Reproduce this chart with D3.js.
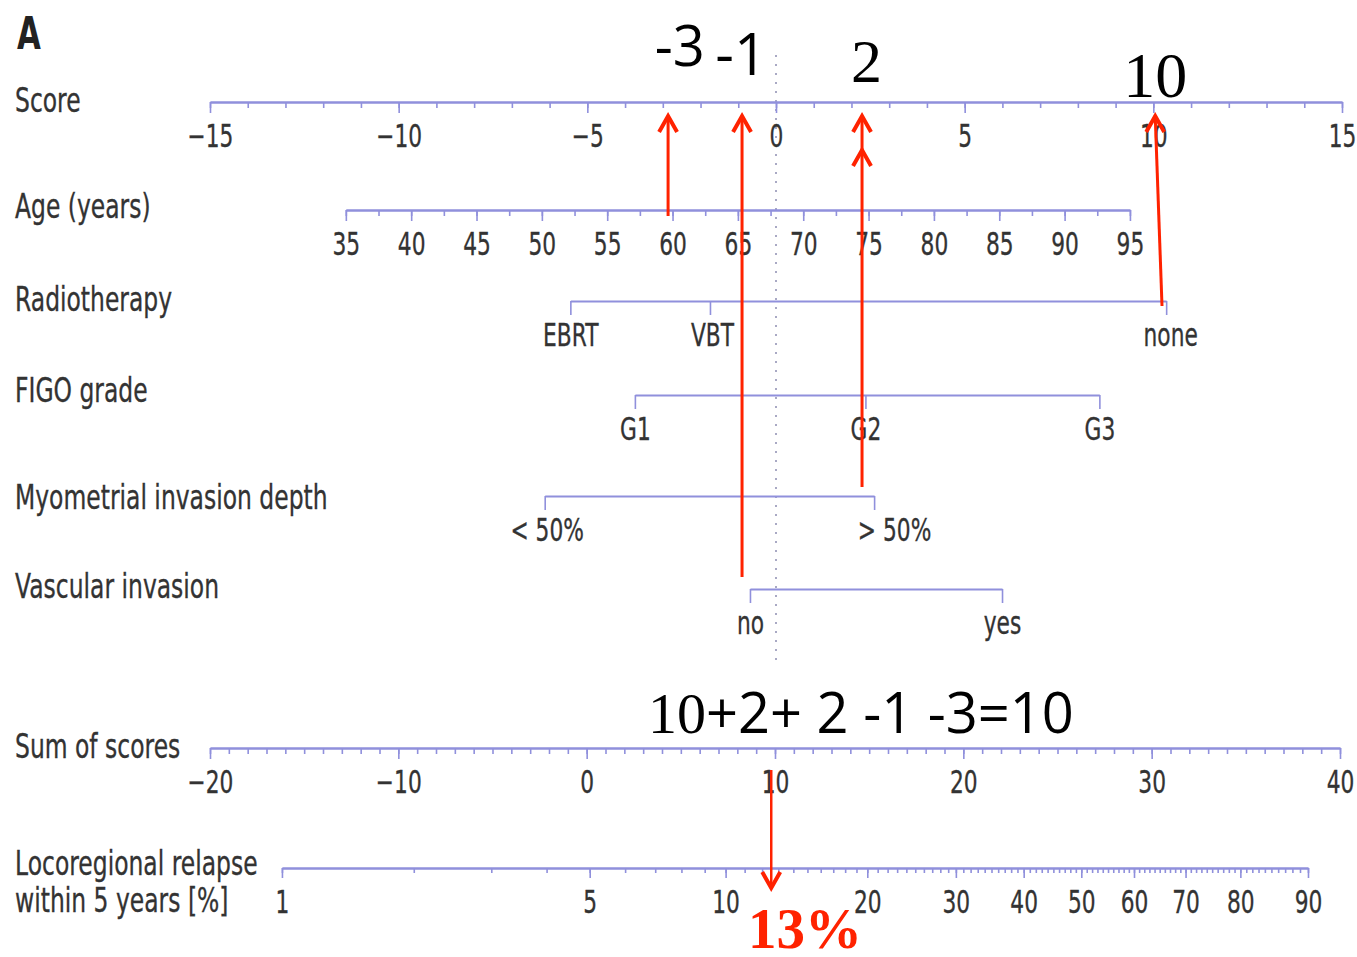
<!DOCTYPE html>
<html>
<head>
<meta charset="utf-8">
<script src="https://cdn.jsdelivr.net/npm/d3@7"></script>
<style>
  body { margin: 0; background: #fff; }
  svg { display: block; }
</style>
</head>
<body>
<svg id="chart" width="1357" height="957"></svg>
<script>
// ---- nomogram data ----
const scoreTicks = d3.range(-15, 16);
const scoreLabels = [-15, -10, -5, 0, 5, 10, 15];

const ageTicks = d3.range(35, 95.1, 2.5);
const ageLabels = d3.range(35, 96, 5);
const ageScoreEnds = [-11.4, 9.38];      // points at age 35 and age 95

const radioLevels = ['EBRT', 'VBT', 'none'];
const radioScores = [-5.45, -1.75, 10.34];
const figoLevels = ['G1', 'G2', 'G3'];
const figoScores = [-3.74, 2.37, 8.57];
const myoLevels = ['< 50%', '> 50%'];
const myoScores = [-6.13, 2.6];
const vascLevels = ['no', 'yes'];
const vascScores = [-0.69, 5.99];

const sumTicks = d3.range(-20, 41);
const sumLabels = [-20, -10, 0, 10, 20, 30, 40];

const probTicks = d3.range(1, 91);
const probLabels = [1, 5, 10, 20, 30, 40, 50, 60, 70, 80, 90];
const probSumEnds = [-16.18, 38.3];    // sum of scores where 1% and 90% sit

// worked example drawn in red / black on top
const exampleScores = [-3, -1, 2, 10];
const arrowFromScores = [-2.86, -0.9, 2.28, 10.23];
const arrowToScores = [-2.86, -0.9, 2.28, 10.05];
const exampleSumText = ['10', '+2+ 2 -1 -3=10'];
const exampleSum = 9.8;
const exampleResult = '13%';

// ---- layout ----
const svg = d3.select('#chart');
const AX = '#9090dc';
const TXT = '#333';
const rowY = { score: 102, age: 210, radio: 301, figo: 395, myo: 496, vasc: 589, sum: 748, prob: 868 };

const scoreX = d3.scaleLinear().domain([-15, 15]).range([210, 1342]);
const ageX = d3.scaleLinear().domain([35, 95]).range(ageScoreEnds.map(scoreX));
const sumX = d3.scaleLinear().domain([-20, 40]).range([210, 1340]);
const cll = p => Math.log(-Math.log(1 - p));   // complementary log-log
const probX = d3.scaleLinear()
  .domain([cll(0.01), cll(0.90)])
  .range(probSumEnds.map(sumX));

function squeeze(sel, sx) {
  sel.attr('transform', function() {
    const t = d3.select(this).attr('data-xy');
    return `translate(${t}) scale(${sx},1)`;
  });
}

function styleAxis(g, labelDx) {
  g.selectAll('.domain').attr('stroke', AX).attr('stroke-width', 2);
  g.selectAll('.tick line').attr('stroke', AX).attr('stroke-width', 1.6);
  g.selectAll('.tick text')
    .attr('y', null).attr('dy', null)
    .attr('transform', (d, i) => `translate(${labelDx ? labelDx[i] : 0},45) scale(0.68,1)`)
    .attr('font-family', 'DejaVu Sans')
    .attr('font-size', 32)
    .attr('fill', TXT)
    .attr('stroke', TXT).attr('stroke-width', 0.35);
}

function numAxis(y, scale, minorVals, majorVals, fmt, minorLen, majorLen) {
  const g = svg.append('g').attr('transform', `translate(0,${y})`);
  g.append('g').call(d3.axisBottom(scale).tickValues(minorVals)
    .tickSize(minorLen).tickSizeOuter(0).tickFormat(''));
  g.append('g').call(d3.axisBottom(scale).tickValues(majorVals)
    .tickSize(majorLen).tickSizeOuter(0).tickFormat(fmt));
  styleAxis(g);
  return g;
}

function catAxis(y, levels, scores, labelDx) {
  const ext = d3.extent(scores);
  const sc = d3.scaleLinear().domain(ext).range(ext.map(scoreX));
  const g = svg.append('g').attr('transform', `translate(0,${y})`);
  g.call(d3.axisBottom(sc).tickValues(scores).tickSize(14).tickSizeOuter(0)
    .tickFormat((d, i) => levels[i]));
  styleAxis(g, labelDx);
  return g;
}

// dotted reference line at score 0
svg.append('line')
  .attr('x1', scoreX(0)).attr('x2', scoreX(0))
  .attr('y1', 55).attr('y2', 662)
  .attr('stroke', '#a9a9c4').attr('stroke-width', 2)
  .attr('stroke-dasharray', '2,7');

// axes
numAxis(rowY.score, scoreX, scoreTicks, scoreLabels, d3.format('d'), 6, 11);
numAxis(rowY.age, ageX, ageTicks, ageLabels, d3.format('d'), 6, 11);
catAxis(rowY.radio, radioLevels, radioScores, [0, 2, 4]);
catAxis(rowY.figo, figoLevels, figoScores);
catAxis(rowY.myo, myoLevels, myoScores, [2, 20]);
catAxis(rowY.vasc, vascLevels, vascScores);
numAxis(rowY.sum, sumX, sumTicks, sumLabels, d3.format('d'), 6, 11);
numAxis(rowY.prob, probX, probTicks.map(p => cll(p / 100)), probLabels.map(p => cll(p / 100)),
  (d, i) => probLabels[i], 5, 10);

// row labels
const rowLabels = [
  ['Score', 112], ['Age (years)', 218], ['Radiotherapy', 311], ['FIGO grade', 402],
  ['Myometrial invasion depth', 509], ['Vascular invasion', 598], ['Sum of scores', 758],
  ['Locoregional relapse', 875], ['within 5 years [%]', 912]
];
svg.append('g').selectAll('text').data(rowLabels).join('text')
  .attr('data-xy', d => `15,${d[1]}`)
  .attr('font-family', 'DejaVu Sans').attr('font-size', 34).attr('fill', TXT)
  .attr('stroke', TXT).attr('stroke-width', 0.35)
  .text(d => d[0])
  .call(squeeze, 0.69);

svg.append('text')
  .attr('data-xy', '17,49')
  .attr('font-family', 'DejaVu Sans').attr('font-weight', 'bold')
  .attr('font-size', 44).attr('fill', '#222')
  .text('A')
  .call(squeeze, 0.7);

// ---- worked example annotations ----
const RED = '#ff2200';
const ann = svg.append('g');

function arrowHead(x, y, dir) {
  ann.append('path')
    .attr('d', `M${x - 9},${y + 16 * dir} L${x},${y} L${x + 9},${y + 16 * dir}`)
    .attr('fill', 'none').attr('stroke', RED).attr('stroke-width', 4)
    .attr('stroke-linejoin', 'miter');
}

const arrowStartY = [rowY.age + 6, rowY.vasc - 12, rowY.myo - 9, rowY.radio + 5];
arrowFromScores.forEach((s, i) => {
  const x0 = scoreX(s), x1 = scoreX(arrowToScores[i]);
  ann.append('line')
    .attr('x1', x0).attr('y1', arrowStartY[i])
    .attr('x2', x1).attr('y2', rowY.score + 14)
    .attr('stroke', RED).attr('stroke-width', 3);
  arrowHead(x1, rowY.score + 14, 1);
});
// second head for the FIGO G2 contribution on the same line
arrowHead(scoreX(arrowToScores[2]), rowY.score + 48, 1);

// arrow from the sum to the probability axis
ann.append('line')
  .attr('x1', sumX(exampleSum)).attr('y1', rowY.sum + 22)
  .attr('x2', sumX(exampleSum)).attr('y2', rowY.prob + 20)
  .attr('stroke', RED).attr('stroke-width', 2.5);
arrowHead(sumX(exampleSum), rowY.prob + 20, -1);

// example numbers over the score axis
const numStyle = [
  { font: 'Open Sans', size: 56, dx: 17, y: 66 },
  { font: 'Open Sans', size: 58, dx: 3, y: 75 },
  { font: 'Liberation Serif', size: 62, dx: 15, y: 82 },
  { font: 'Liberation Serif', size: 64, dx: 2, y: 97 }
];
ann.selectAll('text.num').data(exampleScores).join('text')
  .attr('class', 'num')
  .attr('x', (d, i) => scoreX(d) + numStyle[i].dx)
  .attr('y', (d, i) => numStyle[i].y)
  .attr('text-anchor', 'middle')
  .attr('font-family', (d, i) => numStyle[i].font)
  .attr('font-size', (d, i) => numStyle[i].size)
  .attr('fill', '#000')
  .text(d => d);

const eq = ann.append('text').attr('x', 648).attr('y', 733).attr('fill', '#000');
eq.append('tspan').attr('font-family', 'Liberation Serif').attr('font-size', 58).text(exampleSumText[0]);
eq.append('tspan').attr('font-family', 'Open Sans').attr('font-size', 56).text(exampleSumText[1]);

ann.append('text')
  .attr('x', 748).attr('y', 948)
  .attr('font-family', 'Liberation Serif').attr('font-weight', 'bold')
  .attr('font-size', 57).attr('fill', RED)
  .text(exampleResult);
</script>
</body>
</html>
